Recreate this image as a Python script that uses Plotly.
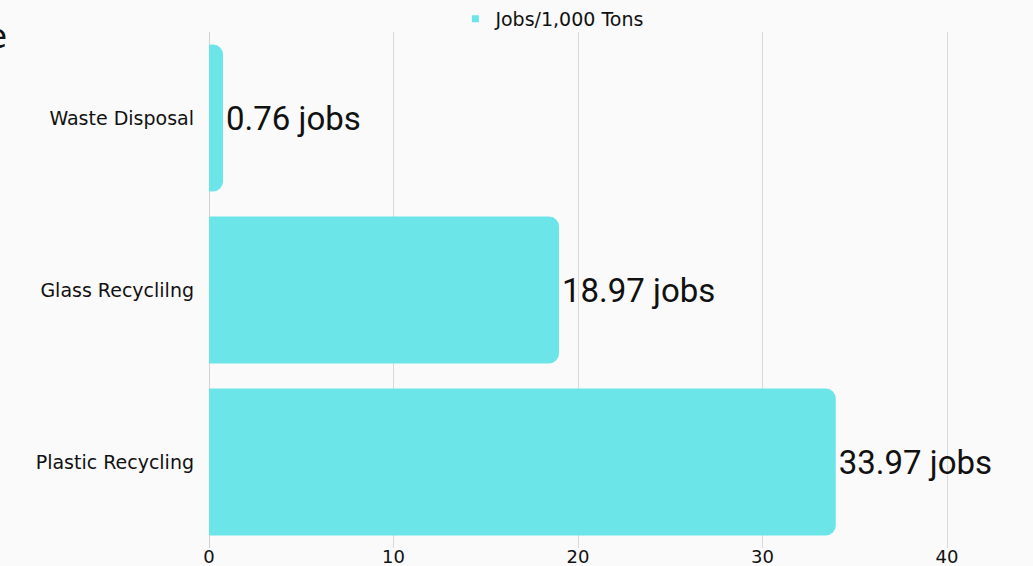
import plotly.graph_objects as go

categories = ["Waste Disposal", "Glass Recyclilng", "Plastic Recycling"]
values = [0.76, 18.97, 33.97]
labels = ["0.76 jobs", "18.97 jobs", "33.97 jobs"]
series_name = "Jobs/1,000 Tons"
x_ticks = [0, 10, 20, 30, 40]

BAR = "#6BE5E8"
BG = "#FAFAFA"
TXT = "#111111"

fig = go.Figure()
fig.add_trace(go.Bar(
    y=categories, x=values, orientation="h", name=series_name,
    marker=dict(color=BAR, line=dict(width=0)),
    text=labels, textposition="outside", cliponaxis=False,
    textfont=dict(family="Roboto", size=33, color=TXT),
    width=0.855, showlegend=False,
))
# legend entry with a small square marker
fig.add_trace(go.Scatter(
    x=[None], y=[None], mode="markers", name=series_name,
    marker=dict(symbol="square", size=7, color=BAR), showlegend=True,
))

fig.update_layout(
    width=1033, height=566,
    paper_bgcolor=BG, plot_bgcolor=BG,
    margin=dict(l=209, r=0, t=32, b=18, autoexpand=False),
    barcornerradius=10,
    showlegend=True,
    legend=dict(orientation="h", x=0.299, xanchor="left", yref="container",
                y=1 - 19/566, yanchor="middle",
                font=dict(family="DejaVu Sans", size=19, color=TXT),
                bgcolor="rgba(0,0,0,0)", itemwidth=30),
    xaxis=dict(range=[0, 44.66], tickvals=x_ticks, showgrid=True, gridcolor="#D9D9D9",
               gridwidth=1, zeroline=True, zerolinecolor="#D0D0D0", zerolinewidth=1,
               tickfont=dict(family="DejaVu Sans", size=18, color=TXT),
               showline=False, ticks="", automargin=False, ticklabelstandoff=-4),
    yaxis=dict(categoryorder="array", categoryarray=categories, autorange="reversed",
               tickfont=dict(family="DejaVu Sans", size=19, color=TXT),
               ticks="", ticklabelstandoff=14, showgrid=False, zeroline=False,
               automargin=False),
    annotations=[dict(text="Waste", xref="paper", yref="paper", x=-209/824 + 9/824,
                      xanchor="right", y=1.0 - 4/516, yanchor="middle", showarrow=False,
                      font=dict(family="DejaVu Sans", size=34, color=TXT))],
)

fig.write_html("out.html", config={"displayModeBar": False},
               post_script="document.body.style.margin='0';document.body.style.background='#FAFAFA';")
